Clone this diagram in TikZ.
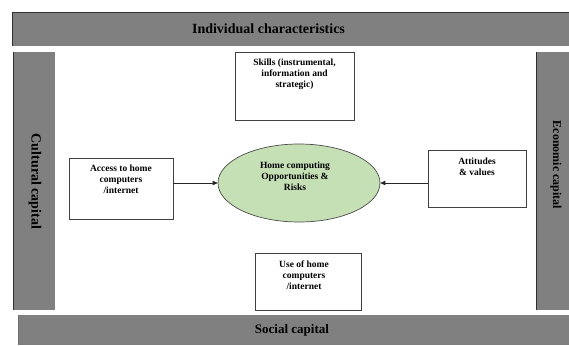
\documentclass[tikz,border=0pt]{standalone}
\usepackage{fontspec}
\setmainfont{Liberation Serif}
\usetikzlibrary{arrows.meta,shapes.geometric}
\definecolor{bargray}{HTML}{808080}
\definecolor{edgegray}{HTML}{303030}
\definecolor{ellgreen}{HTML}{C5E0B4}
\begin{document}
\begin{tikzpicture}[x=1pt,y=-1pt,
  bar/.style={fill=bargray,draw=none},
  baredge/.style={draw=edgegray,line width=0.9pt},
  bartext/.style={font=\bfseries\fontsize{14}{16}\selectfont,inner sep=0pt,text=black},
  box/.style={draw=black!75,line width=0.7pt,fill=white,inner sep=0pt},
  lbl/.style={font=\bfseries\fontsize{9.5}{10.8}\selectfont,align=center,inner sep=0pt,anchor=north},
  arr/.style={-{Triangle[length=5pt,width=4.5pt]},line width=0.8pt,black!85}]
\useasboundingbox[fill=white] (0,0) rectangle (569,345);
% bars
\path[bar] (12,12) rectangle (569,46);
\draw[baredge] (12,46) -- (12,12) -- (569,12);
\path[bar] (13,52) rectangle (55,310);
\draw[baredge] (13,52) -- (13,310);
\path[bar] (536,52) rectangle (569,310);
\draw[baredge] (536,52) -- (536,310);
\path[bar] (18,315) rectangle (569,345);
\draw[baredge,draw=edgegray!70] (18,315) -- (18,345);
\node[bartext] (indiv) at (268.5,29) {Individual characteristics};
\node[bartext,font=\bfseries\fontsize{13}{15}\selectfont] (social) at (292,330) {Social capital};
\node[bartext,rotate=-90] (cult) at (35,181.5) {Cultural capital};
\node[bartext,rotate=-90,font=\bfseries\fontsize{12}{14}\selectfont] (econ) at (556,165) {Economic capital};
% boxes
\node[box,minimum width=119pt,minimum height=68pt] (skills) at (294.5,86) {};
\node[lbl,yshift=-7pt] (skillst) at (skills.north) {Skills (instrumental,\\information and\\strategic)};
\node[box,minimum width=104pt,minimum height=61pt] (access) at (121,188.5) {};
\node[lbl,yshift=-7pt] (accesst) at (access.north) {Access to home\\computers\\/internet};
\node[box,minimum width=98pt,minimum height=57pt] (att) at (477,178.5) {};
\node[lbl,yshift=-8pt] (attt) at (att.north) {Attitudes\\\& values};
\node[box,minimum width=106pt,minimum height=57pt] (use) at (308,281.5) {};
\node[lbl,yshift=-8pt,xshift=-4pt] (uset) at (use.north) {Use of home\\computers\\/internet};
% ellipse
\node[ellipse,draw=black!70,line width=0.7pt,fill=ellgreen,minimum width=162pt,minimum height=78pt,inner sep=0pt] (ell) at (299,183) {};
\node[lbl,anchor=center] (ellt) at (295,176.5) {Home computing\\Opportunities \&\\Risks};
% arrows
\draw[arr] (access.east |- ell.west) -- (ell.west);
\draw[arr] (att.west |- ell.east) -- (ell.east);
\end{tikzpicture}
\end{document}
